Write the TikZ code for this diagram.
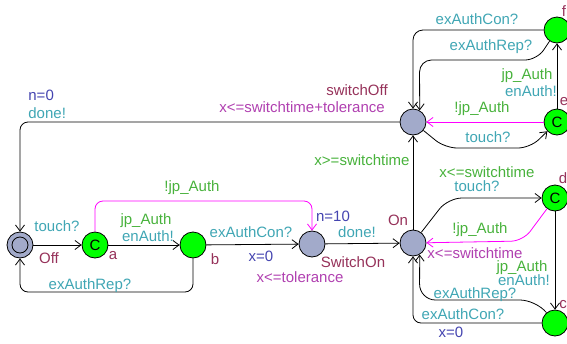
\documentclass[tikz,border=0pt]{standalone}
\usepackage{fontspec}
\setmainfont{Liberation Sans}
\usepackage{xcolor}
\usetikzlibrary{arrows.meta,positioning,calc}

\definecolor{synccol}{RGB}{64,166,180}
\definecolor{guardcol}{RGB}{72,178,60}
\definecolor{assigncol}{RGB}{68,68,176}
\definecolor{invcol}{RGB}{176,64,176}
\definecolor{namecol}{RGB}{150,50,90}
\definecolor{locfill}{RGB}{162,170,202}
\definecolor{comfill}{RGB}{0,255,0}
\definecolor{urgline}{RGB}{255,0,255}

\begin{document}
\begin{tikzpicture}[x=1pt, y=-1pt, font=\fontsize{15}{16}\selectfont,
  line width=0.8pt, >={Straight Barb[length=6pt,width=9pt]},
  loc/.style={circle, draw, fill=locfill, minimum size=26pt, inner sep=0pt},
  comloc/.style={circle, draw, fill=comfill, minimum size=26pt, inner sep=0pt},
  sync/.style={text=synccol, inner sep=0pt},
  guard/.style={text=guardcol, inner sep=0pt},
  assign/.style={text=assigncol, inner sep=0pt},
  inv/.style={text=invcol, inner sep=0pt},
  lname/.style={text=namecol, inner sep=0pt}]
\useasboundingbox (0,0) rectangle (567,343);

% Locations
\node[loc] (off) at (20,245) {};
\draw (off.center) circle (8pt);
\node[comloc] (a) at (95,245) {C};
\node[comloc] (b) at (193,245) {};
\node[loc] (switchon) at (312,244) {};
\node[loc] (on) at (413,243) {};
\node[loc] (switchoff) at (413,122) {};
\node[comloc] (e) at (557,122) {C};
\node[comloc] (f) at (557,30) {};
\node[comloc] (d) at (555,198) {C};
\node[comloc] (c) at (555,323) {};

% Names and invariants
\node[lname] (nOff) at (49,258) {Off};
\node[lname] (nA) at (113,256) {a};
\node[lname] (nB) at (215,259) {b};
\node[lname] (nSwitchOn) at (353,262) {SwitchOn};
\node[inv] (iSwitchOn) at (300,277) {x<=tolerance};
\node[lname] (nOn) at (398,220) {On};
\node[inv] (iOn) at (475,253) {x<=switchtime};
\node[lname] (nSwitchOff) at (357,90) {switchOff};
\node[inv] (iSwitchOff) at (302,107) {x<=switchtime+tolerance};
\node[lname] (nC) at (563,305) {c};
\node[lname] (nD) at (563,178) {d};
\node[lname] (nE) at (564,102) {e};
\node[lname] (nF) at (564,11) {f};

% Edges
\draw[->] (off) -- (a);
\draw[->] (a) -- (b);
\draw[->] (b) -- (switchon);
\draw[->] (switchon) -- (on);
\draw[->] (on) -- (switchoff);
\draw[->, rounded corners=8pt] (b) -- ++(0,47) -| (off);
\draw[->, urgline, rounded corners=8pt] (a) -- ++(0,-44) -| (switchon);
\draw[->, rounded corners=8pt] (switchoff) -| (off);
\draw[->, rounded corners=12pt] (switchoff) -- (445,148) -- (530,148) -- (e);
\draw[->, urgline] (e) -- (switchoff);
\draw[->] (e) -- (f);
\draw[->, rounded corners=10pt] (f) -| (switchoff);
\draw[->, rounded corners=12pt] (f) -- (537,60) -- (419.5,60) -- (switchoff.60);
\draw[->, rounded corners=14pt] (on) -- (448,198) -- (d);
\draw[->, urgline, rounded corners=12pt] (d) -- (523,241) -- (on);
\draw[->] (d) -- (c);
\draw[->, rounded corners=16pt] (c) -- (536,300) -- (419.5,300) -- (on.-60);
\draw[->, rounded corners=8pt] (c) -| (on);

% Edge labels
\node[sync] (sTouchOff) at (57,226) {touch?};
\node[guard] (gAuthA) at (146,221) {jp\_Auth};
\node[sync] (sEnA) at (148,236) {enAuth!};
\node[sync] (sConB) at (251,232) {exAuthCon?};
\node[assign] (aXb) at (261,256) {x=0};
\node[sync] (sRepB) at (90,286) {exAuthRep?};
\node[guard] (gNotA) at (192,188) {!jp\_Auth};
\node[assign] (aN10) at (333,216) {n=10};
\node[sync] (sDoneOn) at (357,232) {done!};
\node[guard] (gSwitch) at (362,160) {x>=switchtime};
\node[assign, anchor=west] (aN0) at (28,95) {n=0};
\node[sync, anchor=west] (sDoneOff) at (28,113) {done!};
\node[sync] (sConF) at (477,19) {exAuthCon?};
\node[sync] (sRepF) at (491,47) {exAuthRep?};
\node[guard] (gAuthE) at (527,76) {jp\_Auth};
\node[sync] (sEnE) at (531,91) {enAuth!};
\node[guard] (gNotE) at (482,109) {!jp\_Auth};
\node[sync] (sTouchE) at (488,137) {touch?};
\node[guard] (gSwitchD) at (487,172) {x<=switchtime};
\node[sync] (sTouchD) at (477,186) {touch?};
\node[guard] (gNotD) at (480,230) {!jp\_Auth};
\node[guard] (gAuthD) at (522,268) {jp\_Auth};
\node[sync] (sEnD) at (524,280) {enAuth!};
\node[sync] (sRepC) at (475,295) {exAuthRep?};
\node[sync] (sConC) at (463,314) {exAuthCon?};
\node[assign] (aXc) at (451,332) {x=0};

\end{tikzpicture}
\end{document}
